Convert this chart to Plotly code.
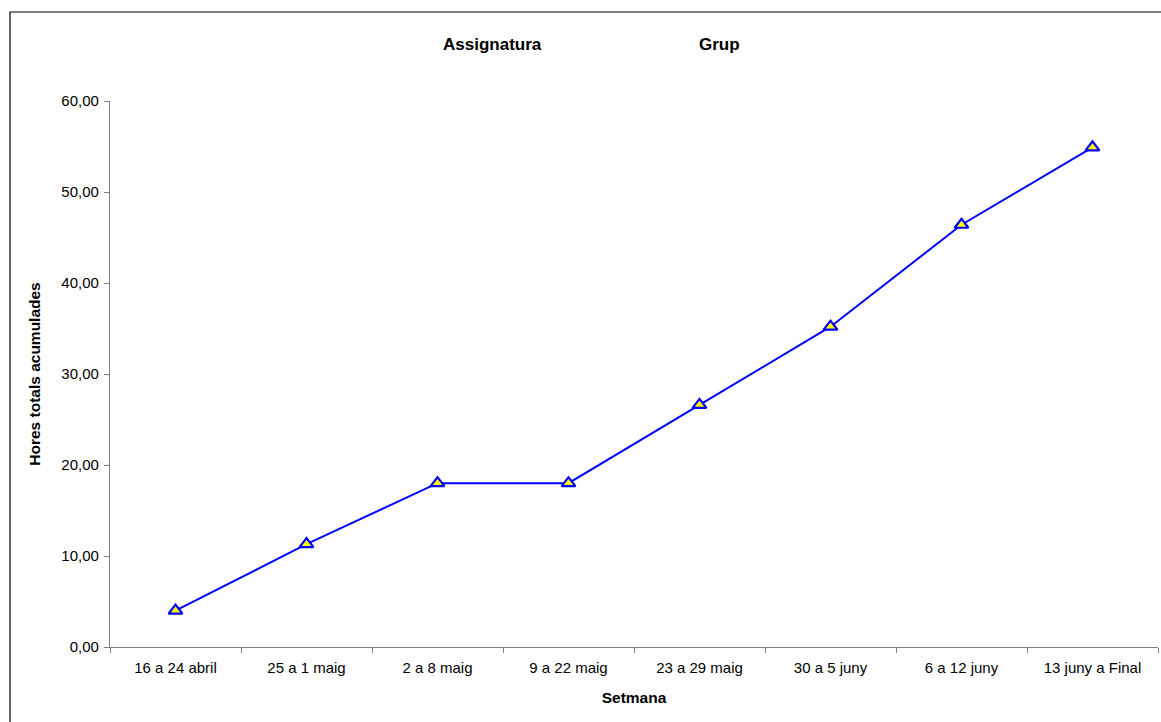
import plotly.graph_objects as go

# Weekly cumulative hours
setmanes = ["16 a 24 abril", "25 a 1 maig", "2 a 8 maig", "9 a 22 maig",
            "23 a 29 maig", "30 a 5 juny", "6 a 12 juny", "13 juny a Final"]
hores_acumulades = [4.0, 11.3, 18.0, 18.0, 26.6, 35.2, 46.4, 54.9]
y_ticks = [0, 10, 20, 30, 40, 50, 60]

W, H = 1161, 722
ML, MR, MT, MB = 110, 3, 101, 75
pw = W - ML - MR
ph = H - MT - MB

FAM = "Liberation Sans, Arial, sans-serif"
tick_font = dict(family=FAM, size=15, color="black")
axis_title_font = dict(family=FAM, size=15.5, color="black")
head_font = dict(family=FAM, size=17, color="black")

fig = go.Figure()
fig.add_trace(go.Scatter(
    x=setmanes, y=hores_acumulades, mode="lines+markers",
    line=dict(color="#0000FF", width=2),
    marker=dict(symbol="triangle-up", size=12, color="#FFFF00",
                line=dict(color="#0000FF", width=2.2)),
    showlegend=False, cliponaxis=False,
))

fig.update_layout(
    width=W, height=H,
    margin=dict(l=ML, r=MR, t=MT, b=MB),
    paper_bgcolor="white", plot_bgcolor="white",
    font=tick_font,
    separators=",.",
    xaxis=dict(
        type="category", tickson="boundaries", ticks="outside", ticklen=5,
        tickcolor="#808080", showline=True, linecolor="#808080", linewidth=1.2,
        showgrid=False, zeroline=False, range=[-0.5, 7.5],
        ticklabelstandoff=7,
        title=dict(text="<b>Setmana</b>", font=axis_title_font, standoff=17),
        tickfont=tick_font,
    ),
    yaxis=dict(
        range=[0, 60], tickvals=y_ticks, tickformat=".2f", ticks="outside",
        ticklen=5, tickcolor="#808080", showline=True, linecolor="#808080",
        linewidth=1.2, showgrid=False, zeroline=False,
        ticklabelstandoff=2,
        title=dict(text="<b>Hores totals acumulades</b>", font=axis_title_font,
                   standoff=16),
        tickfont=tick_font,
    ),
    annotations=[
        dict(text="<b>Assignatura</b>", x=(492 - ML) / pw, y=1 + (MT - 45) / ph,
             xref="paper", yref="paper", showarrow=False, font=head_font,
             xanchor="center", yanchor="middle"),
        dict(text="<b>Grup</b>", x=(719 - ML) / pw, y=1 + (MT - 45) / ph,
             xref="paper", yref="paper", showarrow=False, font=head_font,
             xanchor="center", yanchor="middle"),
    ],
    shapes=[
        # outer chart frame (left and top edges are visible)
        dict(type="rect", xref="paper", yref="paper",
             x0=(10 - ML) / pw, x1=1 + 20 / pw,
             y0=-(MB + 20) / ph, y1=1 + (MT - 12) / ph,
             line=dict(color="black", width=1.2), layer="below"),
    ],
)

fig.write_html("out.html")
